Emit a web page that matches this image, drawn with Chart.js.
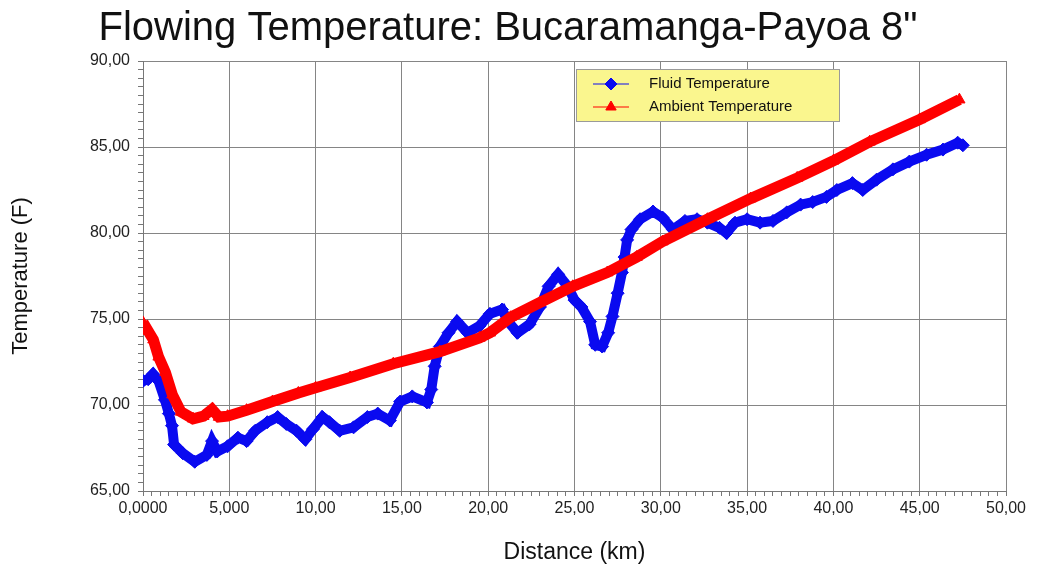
<!DOCTYPE html>
<html>
<head>
<meta charset="utf-8">
<script src="https://cdn.jsdelivr.net/npm/chart.js@4.4.1/dist/chart.umd.min.js"></script>
<style>
  html, body { margin: 0; padding: 0; background: #fff; }
</style>
</head>
<body>
<canvas id="tempChart" width="1038" height="571"></canvas>
<script>
// values (distance in km, temperature in F)
const fluidKm = [0, 0.3, 0.58, 0.9, 1.27, 1.5, 1.68, 1.8, 2.3, 3.0, 3.7, 4.0, 4.3, 4.9, 5.5, 6.0, 6.5, 7.2, 7.8, 8.3, 8.9, 9.4, 9.85, 10.4, 10.8, 11.4, 12.2, 13.0, 13.6, 14.3, 14.9, 15.6, 16.45, 16.7, 16.9, 17.2, 17.7, 18.2, 18.8, 19.5, 20.1, 20.8, 21.15, 21.7, 22.4, 23.0, 23.5, 24.05, 24.6, 25.0, 25.4, 25.9, 26.2, 26.6, 26.95, 27.2, 27.5, 27.75, 27.9, 28.05, 28.3, 28.8, 29.55, 30.1, 30.7, 31.4, 32.1, 32.7, 33.4, 33.8, 34.3, 35.0, 35.75, 36.5, 37.3, 38.1, 38.8, 39.6, 40.2, 41.1, 41.7, 42.5, 43.45, 44.4, 45.4, 46.35, 47.2, 47.5];
const fluidTemp = [71.4, 71.5, 71.8, 71.4, 70.3, 69.5, 68.8, 67.7, 67.2, 66.7, 67.1, 67.9, 67.3, 67.6, 68.1, 67.9, 68.5, 69.0, 69.3, 68.9, 68.5, 68.0, 68.6, 69.3, 69.0, 68.5, 68.7, 69.3, 69.5, 69.1, 70.2, 70.5, 70.15, 70.9, 72.25, 73.4, 74.2, 74.85, 74.2, 74.6, 75.3, 75.55, 74.85, 74.2, 74.7, 75.7, 76.9, 77.6, 76.9, 76.1, 75.7, 74.85, 73.5, 73.4, 74.2, 75.15, 76.5, 77.7, 78.6, 79.6, 80.2, 80.8, 81.25, 80.9, 80.2, 80.7, 80.8, 80.6, 80.3, 80.0, 80.6, 80.8, 80.6, 80.7, 81.2, 81.65, 81.8, 82.1, 82.5, 82.9, 82.5, 83.1, 83.7, 84.15, 84.55, 84.85, 85.25, 85.1];

const ambientKm = [0, 0.3, 0.6, 0.9, 1.3, 1.7, 2.2, 2.9, 3.5, 4.0, 4.4, 4.9, 6.0, 7.5, 9.0, 10.0, 12.0, 14.5, 17.2, 19.5, 20.1, 21.3, 23.0, 24.9, 26.9, 28.6, 30.1, 32.7, 35.2, 37.9, 40.0, 42.1, 45.0, 47.3];
const ambientTemp = [74.8, 74.3, 73.8, 72.8, 71.9, 70.6, 69.6, 69.2, 69.35, 69.75, 69.3, 69.35, 69.7, 70.2, 70.7, 71.0, 71.6, 72.4, 73.1, 73.9, 74.2, 75.1, 75.96, 76.9, 77.7, 78.6, 79.5, 80.8, 82.0, 83.2, 84.2, 85.3, 86.6, 87.75];

const xTickLabels = ['0,0000', '5,000', '10,00', '15,00', '20,00', '25,00', '30,00', '35,00', '40,00', '45,00', '50,00'];
const yTickLabels = ['65,00', '70,00', '75,00', '80,00', '85,00', '90,00'];

const chartTitle = 'Flowing Temperature: Bucaramanga-Payoa 8"';
const FONT = '"Liberation Sans", Arial, sans-serif';
const GRID = '#858585';

function isMajor(v) {
  return Math.abs(v / 5 - Math.round(v / 5)) < 1e-6;
}

function pairs(xs, ys) {
  return xs.map((x, i) => ({ x: x, y: ys[i] }));
}

const decor = {
  id: 'decor',
  afterDraw(chart) {
    const ctx = chart.ctx;
    ctx.save();
    ctx.fillStyle = '#111';
    ctx.font = '40px ' + FONT;
    ctx.textAlign = 'center';
    ctx.textBaseline = 'alphabetic';
    ctx.fillText(chartTitle, 508, 40);

    // legend box
    const bx = 576, by = 69, bw = 263, bh = 52;
    ctx.fillStyle = '#FAF68E';
    ctx.fillRect(bx, by, bw, bh);
    ctx.strokeStyle = '#9a9a9a';
    ctx.lineWidth = 1;
    ctx.strokeRect(bx + 0.5, by + 0.5, bw, bh);

    ctx.textAlign = 'left';
    ctx.textBaseline = 'middle';
    ctx.font = '15px ' + FONT;
    const order = [1, 0]; // fluid first, ambient second
    order.forEach((di, row) => {
      const ds = chart.data.datasets[di];
      const y = by + 15 + row * 23;
      ctx.strokeStyle = ds.borderColor;
      ctx.lineWidth = 1;
      ctx.beginPath();
      ctx.moveTo(bx + 17, y);
      ctx.lineTo(bx + 53, y);
      ctx.stroke();
      ctx.fillStyle = ds.borderColor;
      Chart.helpers.drawPoint(ctx, { pointStyle: ds.pointStyle, radius: 6, rotation: 0, borderWidth: 1 }, bx + 35, y);
      ctx.fillStyle = '#111';
      ctx.fillText(ds.label, bx + 73, y);
    });
    ctx.restore();
  }
};

new Chart(document.getElementById('tempChart'), {
  type: 'line',
  data: {
    datasets: [
      {
        label: 'Ambient Temperature',
        data: pairs(ambientKm, ambientTemp),
        borderColor: '#FF0000',
        backgroundColor: '#FF0000',
        borderWidth: 11,
        pointStyle: 'triangle',
        pointRadius: 6.5,
        pointBorderWidth: 1,
        tension: 0,
        order: 0
      },
      {
        label: 'Fluid Temperature',
        data: pairs(fluidKm, fluidTemp),
        borderColor: '#0A0AF0',
        backgroundColor: '#0A0AF0',
        borderWidth: 10,
        pointStyle: 'rectRot',
        pointRadius: 6.5,
        pointBorderWidth: 1,
        tension: 0,
        order: 1
      }
    ]
  },
  options: {
    responsive: false,
    animation: false,
    layout: { padding: { top: 61, right: 32, left: 0, bottom: 0 } },
    plugins: {
      legend: { display: false },
      tooltip: { enabled: false }
    },
    scales: {
      x: {
        type: 'linear',
        min: 0,
        max: 50,
        afterFit: s => { s.height = 80; },
        border: { color: '#777', width: 1 },
        grid: {
          color: c => isMajor(c.tick.value) ? GRID : 'rgba(0,0,0,0)',
          tickColor: '#777',
          tickLength: 5
        },
        ticks: {
          stepSize: 0.5,
          autoSkip: false,
          maxRotation: 0,
          padding: 3,
          color: '#222',
          font: { family: FONT, size: 16 },
          callback: v => isMajor(v) ? xTickLabels[Math.round(v / 5)] : ''
        },
        title: {
          display: true,
          text: 'Distance (km)',
          color: '#111',
          font: { family: FONT, size: 23 },
          padding: { top: 0, bottom: 5 }
        }
      },
      y: {
        min: 65,
        max: 90,
        afterFit: s => { s.width = 143; },
        border: { color: '#777', width: 1 },
        grid: {
          color: c => isMajor(c.tick.value) ? GRID : 'rgba(0,0,0,0)',
          tickColor: '#777',
          tickLength: 5
        },
        ticks: {
          stepSize: 0.5,
          autoSkip: false,
          padding: 8,
          color: '#222',
          font: { family: FONT, size: 16 },
          callback: v => isMajor(v) ? yTickLabels[Math.round((v - 65) / 5)] : ''
        },
        title: {
          display: true,
          text: 'Temperature (F)',
          color: '#111',
          font: { family: FONT, size: 22 },
          padding: { top: 8, bottom: 0 }
        }
      }
    }
  },
  plugins: [decor]
});
</script>
</body>
</html>
